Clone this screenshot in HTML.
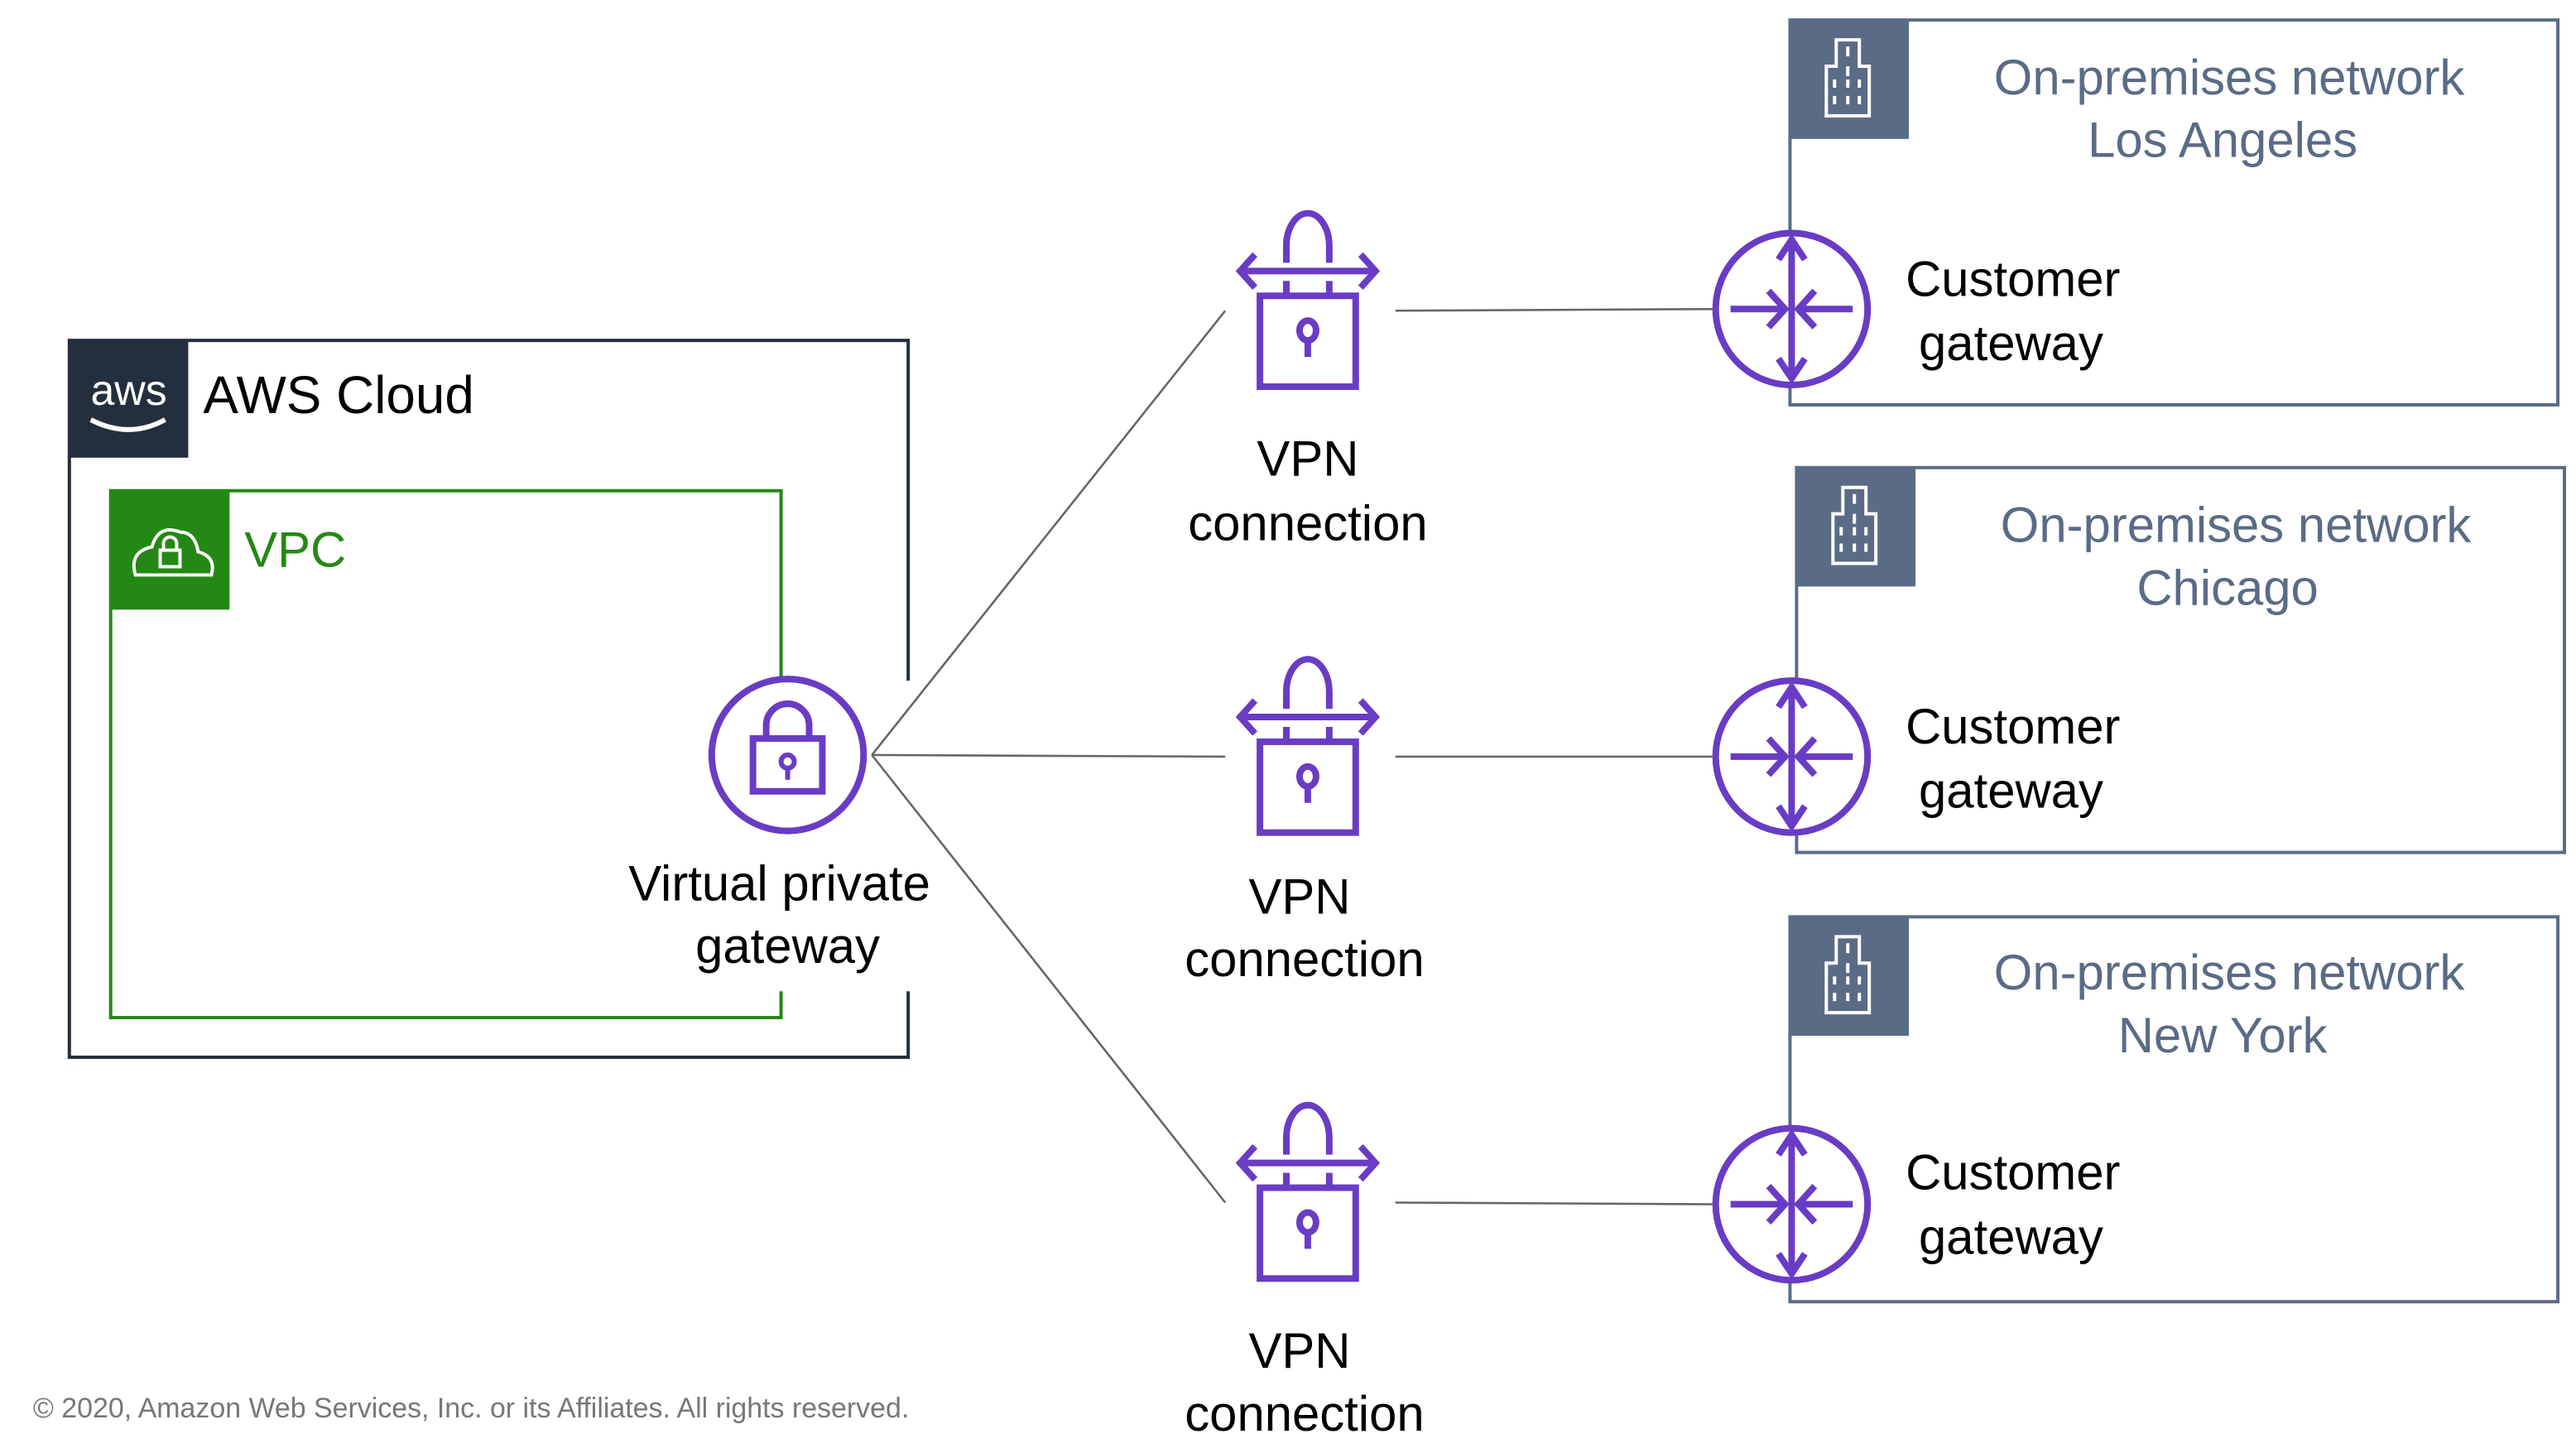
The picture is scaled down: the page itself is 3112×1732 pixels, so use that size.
<!DOCTYPE html>
<html><head><meta charset="utf-8"><style>html,body{margin:0;padding:0;background:#fff}svg{display:block}</style></head>
<body>
<svg width="3112" height="1732" viewBox="0 0 1560 868" xmlns="http://www.w3.org/2000/svg" font-family="Liberation Sans, DejaVu Sans, sans-serif">
<defs>
<g id="vpn" fill="none" stroke="#693cc5" stroke-width="4">
 <path d="M-13,-17 V-27 A13,20 0 0 1 13,-27 V-17"/>
 <line x1="-40" y1="-12" x2="40" y2="-12"/>
 <path d="M-32,-22 L-41,-12 L-32,-2 M32,-22 L41,-12 L32,-2"/>
 <line x1="-13" y1="-6" x2="-13" y2="2"/><line x1="13" y1="-6" x2="13" y2="2"/>
 <rect x="-29" y="3" width="58" height="55"/>
 <ellipse cx="0" cy="24" rx="5" ry="6"/><line x1="0" y1="30" x2="0" y2="40"/>
</g>
<g id="cgw" fill="none" stroke="#693cc5" stroke-width="4">
 <circle cx="0" cy="0" r="46"/>
 <line x1="0" y1="-40" x2="0" y2="40"/>
 <path d="M-8,-30 L0,-42 L8,-30 M-8,30 L0,42 L8,30"/>
 <line x1="-37" y1="0" x2="-6" y2="0"/><path d="M-14,-11 L-4,0 L-14,11"/>
 <line x1="37" y1="0" x2="6" y2="0"/><path d="M14,-11 L4,0 L14,11"/>
</g>
<g id="bld" fill="none" stroke="#fff" stroke-width="2">
 <path d="M-14,22 V-8 H-8 V-24 H6 V-8 H12 V22 Z"/>
 <path d="M-1,-20v6M-1,-8v6M-9,0v5M-1,0v5M6,0v5M-9,10v5M-1,10v5M6,10v5"/>
</g>
</defs>
<!-- AWS cloud -->
<rect x="42" y="206" width="508" height="434" fill="none" stroke="#232f3e" stroke-width="2"/>
<rect x="42" y="206" width="72" height="71" fill="#232f3e"/>
<text x="78" y="245" font-size="26" fill="#fff" text-anchor="middle">aws</text>
<path d="M55,254 Q78,266 100,254" fill="none" stroke="#fff" stroke-width="3"/>
<text x="123" y="250" font-size="32" fill="#000">AWS Cloud</text>
<!-- VPC -->
<rect x="67" y="297" width="406" height="319" fill="none" stroke="#248814" stroke-width="2"/>
<rect x="67" y="297" width="72" height="72" fill="#248814"/>
<path d="M82,348 Q78,334 92,331 Q96,317 109,322 Q118,322 120,334 Q131,337 128,348 Z" fill="none" stroke="#fff" stroke-width="2"/>
<rect x="97" y="333" width="12" height="10" fill="none" stroke="#fff" stroke-width="2"/>
<path d="M99,333 v-4 a4,4 0 0 1 8,0 v4" fill="none" stroke="#fff" stroke-width="2"/>
<text x="148" y="343" font-size="30" fill="#248814">VPC</text>
<!-- gaps -->
<rect x="470" y="412" width="90" height="188" fill="#fff"/>
<rect x="365" y="505" width="215" height="95" fill="#fff"/>
<!-- connectors -->
<g stroke="#666" stroke-width="1.3" fill="none">
<line x1="528" y1="457" x2="742" y2="188"/>
<line x1="528" y1="457" x2="742" y2="458"/>
<line x1="528" y1="457" x2="742" y2="728"/>
<line x1="845" y1="188" x2="1037" y2="187"/>
<line x1="845" y1="458" x2="1037" y2="458"/>
<line x1="845" y1="728" x2="1037" y2="729"/>
</g>
<!-- VGW -->
<circle cx="477" cy="457" r="46" fill="#fff" stroke="#693cc5" stroke-width="4"/>
<rect x="456" y="447" width="42" height="32" fill="none" stroke="#693cc5" stroke-width="4"/>
<path d="M464,447 v-8 a13,13 0 0 1 26,0 v8" fill="none" stroke="#693cc5" stroke-width="4"/>
<circle cx="477" cy="461" r="4" fill="none" stroke="#693cc5" stroke-width="3"/><line x1="477" y1="465" x2="477" y2="472" stroke="#693cc5" stroke-width="3"/>
<g font-size="30" fill="#000" text-anchor="middle">
<text x="472" y="545">Virtual private</text><text x="477" y="583">gateway</text>
<text x="792" y="288">VPN</text><text x="792" y="327">connection</text>
<text x="787" y="553">VPN</text><text x="790" y="591">connection</text>
<text x="787" y="828">VPN</text><text x="790" y="866">connection</text>
</g>
<use href="#vpn" x="792" y="176"/>
<use href="#vpn" x="792" y="446"/>
<use href="#vpn" x="792" y="716"/>
<!-- on-prem boxes -->
<g fill="none" stroke="#5a6b86" stroke-width="2">
<rect x="1084" y="12" width="465" height="233"/>
<rect x="1088" y="283" width="465" height="233"/>
<rect x="1084" y="555" width="465" height="233"/>
</g>
<rect x="1084" y="12" width="72" height="72" fill="#5a6b86"/><use href="#bld" x="1120" y="48"/>
<rect x="1088" y="283" width="72" height="72" fill="#5a6b86"/><use href="#bld" x="1124" y="319"/>
<rect x="1084" y="555" width="72" height="72" fill="#5a6b86"/><use href="#bld" x="1120" y="591"/>
<g font-size="30" fill="#5a6b86" text-anchor="middle">
<text x="1350" y="57">On-premises network</text><text x="1346" y="95">Los Angeles</text>
<text x="1354" y="328">On-premises network</text><text x="1349" y="366">Chicago</text>
<text x="1350" y="599">On-premises network</text><text x="1346" y="637">New York</text>
</g>
<circle cx="1085" cy="187" r="47" fill="#fff"/><use href="#cgw" x="1085" y="187"/>
<circle cx="1085" cy="458" r="47" fill="#fff"/><use href="#cgw" x="1085" y="458"/>
<circle cx="1085" cy="729" r="47" fill="#fff"/><use href="#cgw" x="1085" y="729"/>
<g font-size="30" fill="#000">
<text x="1154" y="179">Customer</text><text x="1162" y="218">gateway</text>
<text x="1154" y="450">Customer</text><text x="1162" y="489">gateway</text>
<text x="1154" y="720">Customer</text><text x="1162" y="759">gateway</text>
</g>
<text x="20" y="858" font-size="17" fill="#777">© 2020, Amazon Web Services, Inc. or its Affiliates. All rights reserved.</text>
</svg>
</body></html>
